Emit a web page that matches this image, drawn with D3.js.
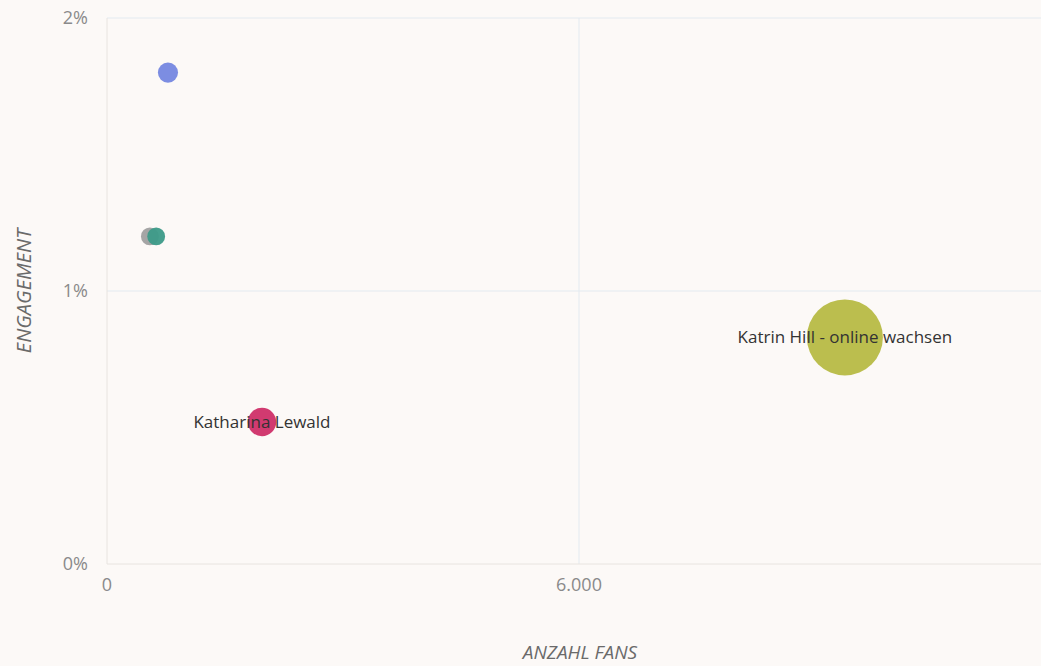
<!DOCTYPE html>
<html><head><meta charset="utf-8">
<script src="https://cdn.jsdelivr.net/npm/d3@7"></script>
<style>
html,body{margin:0;padding:0;background:#fcf9f7;}
svg{display:block;font-family:"Open Sans","Noto Sans",sans-serif;}
</style></head>
<body><svg id="c" width="1041" height="666"></svg>
<script>
const names = ["Blue page", "Gray page", "Teal page", "Katharina Lewald", "Katrin Hill - online wachsen"];
const fans = [775, 545, 625, 1970, 9380];
const engagement = [1.80, 1.20, 1.20, 0.52, 0.83];
const sizes = [70, 55, 55, 140, 1000];
const colors = ["#7587e0", "#a0a0a0", "#3c9a88", "#cf2f68", "#b7bb44"];
const showLabel = [false, false, false, true, true];
const xTicks = [0, 6000];
const yTicks = [0, 1, 2];

const svg = d3.select("#c");
const W = 1041, H = 666;
const m = {l:107, t:18, b:102};
const x = d3.scaleLinear().domain([0, 12000]).range([m.l, m.l + 944]);
const y = d3.scaleLinear().domain([0, 2]).range([H - m.b, m.t]);
const r = d3.scaleSqrt().domain([0, 1000]).range([0, 38]);
const loc = d3.formatLocale({decimal:",", thousands:".", grouping:[3], currency:["","€"]});
const fx = loc.format(",d");

svg.append("rect").attr("width", W).attr("height", H).attr("fill", "#fcf9f7");

// grid
const g = svg.append("g");
g.selectAll(".hg").data(yTicks.filter(d=>d>0)).join("line")
  .attr("x1", m.l).attr("x2", W).attr("y1", d=>y(d)).attr("y2", d=>y(d))
  .attr("stroke", "#e3eaf0").attr("stroke-width", 1);
g.selectAll(".vg").data(xTicks.filter(d=>d>0)).join("line")
  .attr("y1", y(2)).attr("y2", y(0)).attr("x1", d=>x(d)).attr("x2", d=>x(d))
  .attr("stroke", "#e3eaf0").attr("stroke-width", 1);
// axis lines
g.append("line").attr("x1", m.l).attr("x2", m.l).attr("y1", y(2)).attr("y2", y(0)).attr("stroke", "#e8e4e0");
g.append("line").attr("x1", m.l).attr("x2", W).attr("y1", y(0)).attr("y2", y(0)).attr("stroke", "#e8e4e0");

// y ticks
svg.selectAll(".yt").data(yTicks).join("text")
  .attr("x", 88).attr("y", d=>y(d)).attr("dy", "0.36em")
  .attr("text-anchor", "end").attr("fill", "#8a8a8a").attr("font-size", 18)
  .text(d=>d + "%");
// x ticks
svg.selectAll(".xt").data(xTicks).join("text")
  .attr("x", d=>x(d)).attr("y", 591)
  .attr("text-anchor", "middle").attr("fill", "#8a8a8a").attr("font-size", 18)
  .text(d=>fx(d));

// axis titles
svg.append("text").attr("x", 580).attr("y", 659).attr("text-anchor", "middle")
  .attr("font-style", "italic").attr("font-size", 19).attr("fill", "#6a6a6a").text("ANZAHL FANS");
svg.append("text").attr("transform", "translate(31,291) rotate(-90)").attr("text-anchor", "middle")
  .attr("font-style", "italic").attr("font-size", 20).attr("fill", "#6a6a6a").text("ENGAGEMENT");

const data = names.map((n,i)=>({n, x:fans[i], y:engagement[i], s:sizes[i], c:colors[i], l:showLabel[i]}));
svg.selectAll(".pt").data(data).join("circle")
  .attr("cx", d=>x(d.x)).attr("cy", d=>y(d.y)).attr("r", d=>r(d.s))
  .attr("fill", d=>d.c).attr("fill-opacity", 0.95);
svg.selectAll(".lb").data(data.filter(d=>d.l)).join("text")
  .attr("x", d=>x(d.x)).attr("y", d=>y(d.y)).attr("dy", "0.35em")
  .attr("text-anchor", "middle").attr("font-size", 17).attr("fill", "#333")
  .text(d=>d.n);
</script></body></html>
